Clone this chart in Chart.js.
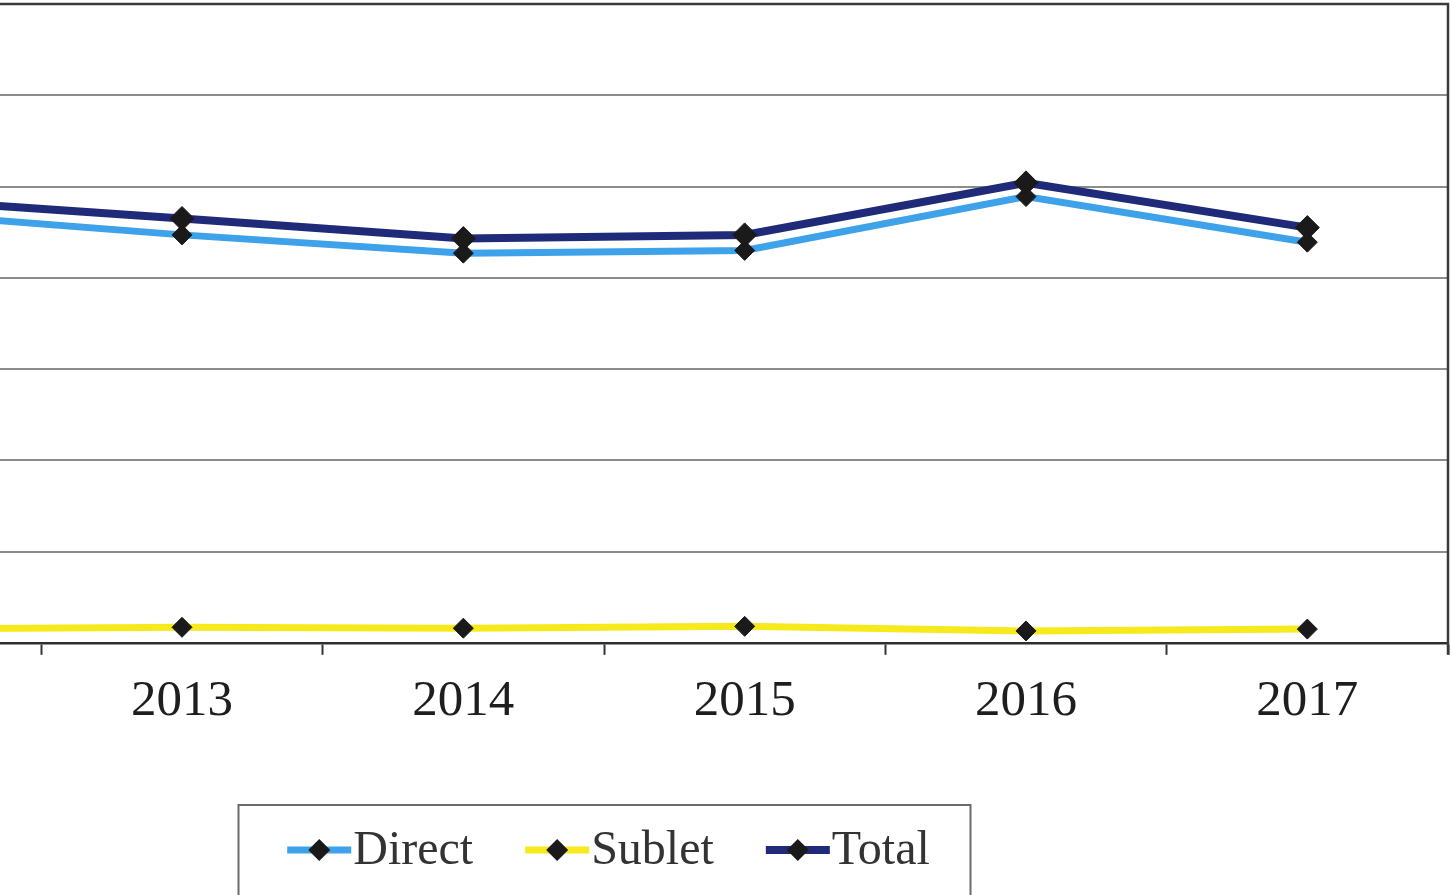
<!DOCTYPE html>
<html>
<head>
<meta charset="utf-8">
<script src="https://cdn.jsdelivr.net/npm/chart.js@4/dist/chart.umd.min.js"></script>
<style>
  html, body { margin: 0; padding: 0; background: #fff; overflow: hidden; }
  #wrap { position: absolute; left: -240px; top: 0; }
</style>
</head>
<body>
<div id="wrap"><canvas id="myChart" width="1693" height="895"></canvas></div>
<script>
// yearly space, millions of sq ft
const years = ['2012', '2013', '2014', '2015', '2016', '2017'];
const direct = [4.71, 4.47, 4.27, 4.30, 4.89, 4.39];
const sublet = [0.15, 0.17, 0.16, 0.18, 0.13, 0.15];
const total = [4.86, 4.65, 4.43, 4.47, 5.04, 4.55];
const yMin = 0, yMax = 7, yStep = 1;

const serif = "'Liberation Serif', 'Times New Roman', serif";

// top and right edge of the plot
const frame = {
  id: 'frame',
  beforeDatasetsDraw(chart) {
    const ctx = chart.ctx, a = chart.chartArea;
    ctx.save();
    ctx.strokeStyle = '#3a3a3a';
    ctx.lineWidth = 2.5;
    ctx.beginPath();
    ctx.moveTo(a.left, a.top);
    ctx.lineTo(a.right, a.top);
    ctx.lineTo(a.right, a.bottom + 12);
    ctx.stroke();
    ctx.restore();
  }
};

// boxed legend: short line with a diamond, then the name
const legendBox = {
  id: 'legendBox',
  afterDraw(chart) {
    const ctx = chart.ctx;
    const cx = chart.width / 2 - 2;
    const boxW = 732, top = 805, midY = 850, baseY = 864;
    const markW = 64, gap = 2, itemGap = 52;
    ctx.save();
    ctx.strokeStyle = '#6a6a6a';
    ctx.lineWidth = 2;
    ctx.strokeRect(cx - boxW / 2, top, boxW, 140);

    ctx.font = '48px ' + serif;
    const sets = chart.data.datasets;
    const widths = sets.map(d => markW + gap + ctx.measureText(d.label).width);
    let x = cx + 4 - (widths.reduce((a, b) => a + b, 0) + itemGap * (sets.length - 1)) / 2;
    sets.forEach((d, i) => {
      ctx.strokeStyle = d.borderColor;
      ctx.lineWidth = d.borderWidth;
      ctx.beginPath();
      ctx.moveTo(x, midY);
      ctx.lineTo(x + markW, midY);
      ctx.stroke();
      const r = 11, mx = x + markW / 2;
      ctx.fillStyle = '#1a1a1a';
      ctx.beginPath();
      ctx.moveTo(mx, midY - r);
      ctx.lineTo(mx + r, midY);
      ctx.lineTo(mx, midY + r);
      ctx.lineTo(mx - r, midY);
      ctx.closePath();
      ctx.fill();
      ctx.fillStyle = '#333';
      ctx.textBaseline = 'alphabetic';
      ctx.fillText(d.label, x + markW + gap, baseY);
      x += widths[i] + itemGap;
    });
    ctx.restore();
  }
};

new Chart('myChart', {
  type: 'line',
  data: {
    labels: years,
    datasets: [
      {
        label: 'Direct', data: direct, order: 1,
        borderColor: '#3ea2ea', borderWidth: 7,
        pointStyle: 'rectRot', pointRadius: 10,
        pointBackgroundColor: '#1a1a1a', pointBorderColor: '#1a1a1a', pointBorderWidth: 1
      },
      {
        label: 'Sublet', data: sublet, order: 2,
        borderColor: '#f7ea1c', borderWidth: 7,
        pointStyle: 'rectRot', pointRadius: 10,
        pointBackgroundColor: '#1a1a1a', pointBorderColor: '#1a1a1a', pointBorderWidth: 1
      },
      {
        label: 'Total', data: total, order: 0,
        borderColor: '#1f2b78', borderWidth: 8,
        pointStyle: 'rectRot', pointRadius: 12,
        pointBackgroundColor: '#1a1a1a', pointBorderColor: '#1a1a1a', pointBorderWidth: 1
      }
    ]
  },
  options: {
    responsive: false,
    animation: false,
    layout: { autoPadding: false, padding: { left: 0, right: 5, top: 4, bottom: 147 } },
    plugins: { legend: { display: false }, tooltip: { enabled: false } },
    elements: { line: { tension: 0 } },
    scales: {
      x: {
        offset: true,
        grid: { offset: true, drawOnChartArea: false, tickLength: 12, tickColor: '#333', tickWidth: 2 },
        border: { color: '#2e2e2e', width: 2.5 },
        ticks: { font: { family: serif, size: 51 }, color: '#1e1e1e', padding: 16, maxRotation: 0, autoSkip: false }
      },
      y: {
        min: yMin, max: yMax,
        ticks: { stepSize: yStep, display: false },
        grid: { color: '#8c8c8c', lineWidth: 2, drawTicks: false },
        border: { display: false },
        afterFit(scale) { scale.width = 0; }
      }
    }
  },
  plugins: [frame, legendBox]
});
</script>
</body>
</html>
